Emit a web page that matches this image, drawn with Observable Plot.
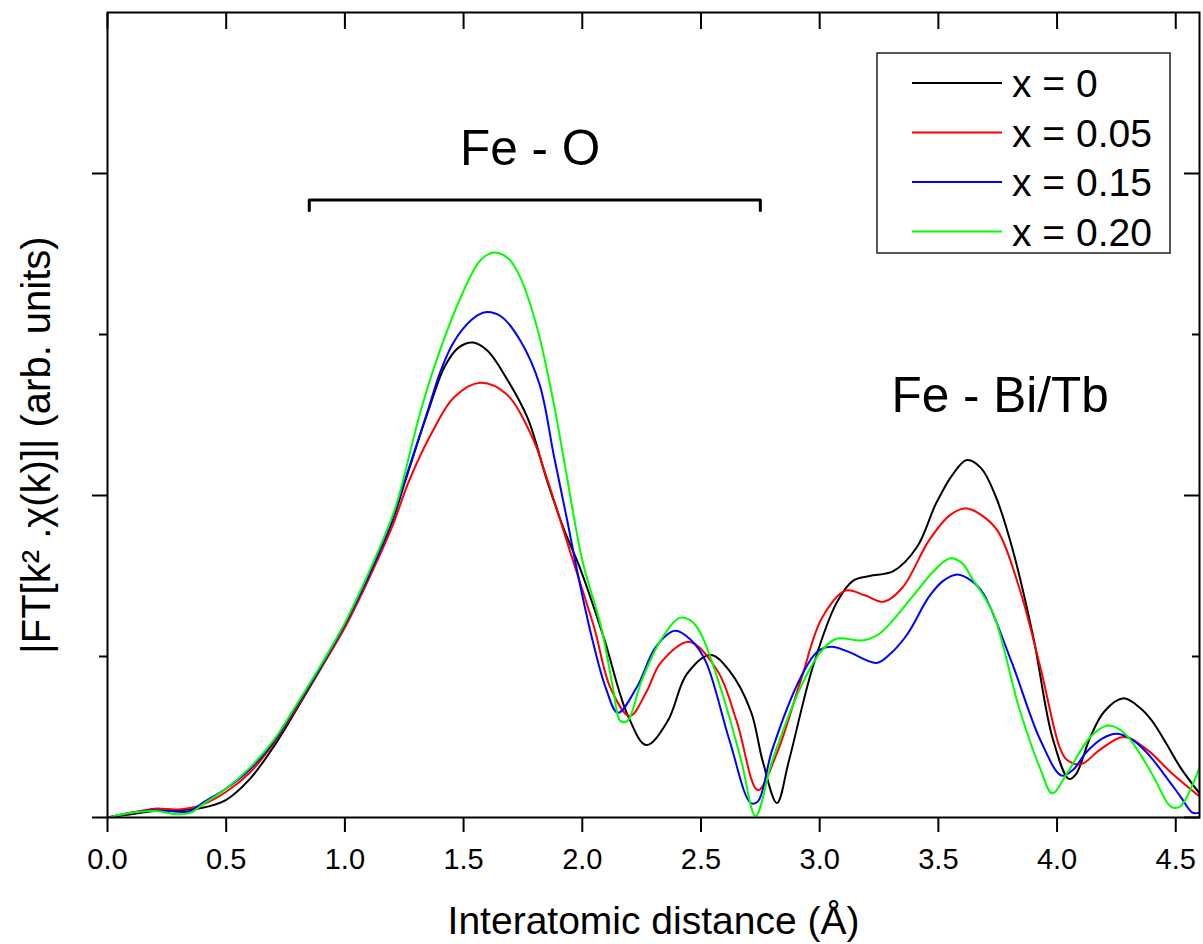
<!DOCTYPE html>
<html>
<head>
<meta charset="utf-8">
<script src="https://cdn.jsdelivr.net/npm/d3@7"></script>
<script src="https://cdn.jsdelivr.net/npm/@observablehq/plot@0.6"></script>
<style>
  html, body { margin: 0; padding: 0; background: #fff; }
  #chart { width: 1203px; height: 944px; }
</style>
</head>
<body>
<div id="chart"></div>
<script>
// Fourier-transformed EXAFS magnitude at the Fe K-edge, Bi(1-x)Tb(x)FeO3 series.
// Interatomic distance R in Å; magnitude in arbitrary units.

const seriesNames = ["x = 0", "x = 0.05", "x = 0.15", "x = 0.20"];
const seriesColors = ["#000000", "#ff0000", "#0000ff", "#00ff00"];

const rX0 = [0, 0.1, 0.2, 0.3, 0.4, 0.5, 0.6, 0.7, 0.8, 0.9, 1.0, 1.1, 1.2, 1.25, 1.3, 1.35, 1.42, 1.48, 1.54, 1.6, 1.68, 1.77, 1.85, 1.92, 1.99, 2.09, 2.19, 2.27, 2.36, 2.44, 2.54, 2.62, 2.71, 2.76, 2.82, 2.87, 2.97, 3.07, 3.14, 3.21, 3.31, 3.41, 3.49, 3.56, 3.62, 3.68, 3.74, 3.81, 3.9, 3.98, 4.05, 4.08, 4.14, 4.2, 4.28, 4.35, 4.4, 4.46, 4.52, 4.6];
const ftX0 = [0, 0.02, 0.04, 0.045, 0.06, 0.11, 0.24, 0.44, 0.68, 0.93, 1.19, 1.49, 1.84, 2.07, 2.30, 2.52, 2.80, 2.92, 2.95, 2.90, 2.73, 2.48, 2.10, 1.80, 1.55, 1.12, 0.64, 0.45, 0.60, 0.89, 1.01, 0.91, 0.66, 0.35, 0.09, 0.35, 0.93, 1.33, 1.47, 1.50, 1.53, 1.68, 1.95, 2.13, 2.22, 2.17, 2.00, 1.68, 1.12, 0.50, 0.24, 0.27, 0.50, 0.66, 0.74, 0.68, 0.60, 0.46, 0.31, 0.15];

const rX005 = [0, 0.1, 0.2, 0.3, 0.4, 0.5, 0.6, 0.7, 0.8, 0.9, 1.0, 1.1, 1.2, 1.27, 1.37, 1.46, 1.57, 1.68, 1.79, 1.85, 1.96, 2.05, 2.12, 2.2, 2.27, 2.33, 2.45, 2.57, 2.65, 2.74, 2.82, 2.92, 3.01, 3.11, 3.19, 3.27, 3.35, 3.46, 3.55, 3.62, 3.68, 3.75, 3.84, 3.93, 4.01, 4.04, 4.10, 4.18, 4.28, 4.38, 4.48, 4.6];
const ftX005 = [0, 0.03, 0.055, 0.05, 0.08, 0.16, 0.28, 0.46, 0.69, 0.93, 1.18, 1.48, 1.81, 2.09, 2.40, 2.61, 2.70, 2.63, 2.36, 2.11, 1.60, 1.18, 0.80, 0.63, 0.78, 0.96, 1.09, 0.91, 0.60, 0.17, 0.40, 0.85, 1.24, 1.41, 1.38, 1.34, 1.43, 1.72, 1.88, 1.92, 1.88, 1.78, 1.43, 0.93, 0.44, 0.36, 0.33, 0.42, 0.50, 0.42, 0.28, 0.13];

const rX015 = [0, 0.1, 0.2, 0.3, 0.35, 0.4, 0.5, 0.6, 0.7, 0.8, 0.9, 1.0, 1.1, 1.2, 1.25, 1.35, 1.40, 1.45, 1.5, 1.56, 1.6, 1.66, 1.74, 1.82, 1.88, 1.94, 1.98, 2.04, 2.10, 2.15, 2.23, 2.31, 2.39, 2.46, 2.52, 2.62, 2.71, 2.74, 2.80, 2.92, 2.99, 3.05, 3.12, 3.24, 3.30, 3.37, 3.46, 3.52, 3.58, 3.64, 3.69, 3.81, 3.93, 4.02, 4.07, 4.12, 4.19, 4.25, 4.31, 4.38, 4.45, 4.52, 4.57, 4.6];
const ftX015 = [0, 0.03, 0.045, 0.035, 0.04, 0.09, 0.18, 0.30, 0.47, 0.70, 0.94, 1.20, 1.50, 1.85, 2.08, 2.53, 2.76, 2.93, 3.04, 3.12, 3.14, 3.11, 2.96, 2.69, 2.25, 1.82, 1.52, 1.12, 0.80, 0.65, 0.81, 1.06, 1.16, 1.10, 0.97, 0.48, 0.09, 0.10, 0.42, 0.87, 1.03, 1.06, 1.03, 0.96, 1.02, 1.14, 1.37, 1.47, 1.51, 1.47, 1.39, 0.96, 0.48, 0.26, 0.30, 0.40, 0.49, 0.52, 0.49, 0.40, 0.27, 0.13, 0.03, 0.03];

const rX020 = [0, 0.1, 0.2, 0.3, 0.35, 0.4, 0.5, 0.6, 0.7, 0.8, 0.9, 1.0, 1.1, 1.2, 1.23, 1.32, 1.40, 1.50, 1.57, 1.63, 1.69, 1.74, 1.81, 1.88, 1.93, 2.0, 2.08, 2.13, 2.16, 2.19, 2.25, 2.33, 2.41, 2.46, 2.50, 2.59, 2.67, 2.73, 2.80, 2.92, 3.00, 3.07, 3.18, 3.25, 3.39, 3.48, 3.55, 3.60, 3.64, 3.73, 3.84, 3.93, 3.98, 4.04, 4.14, 4.21, 4.26, 4.31, 4.40, 4.47, 4.49, 4.52, 4.6];
const ftX020 = [0, 0.03, 0.04, 0.02, 0.03, 0.08, 0.18, 0.31, 0.48, 0.71, 0.95, 1.21, 1.52, 1.87, 2.01, 2.53, 2.90, 3.27, 3.46, 3.51, 3.47, 3.35, 3.04, 2.57, 2.16, 1.60, 1.18, 0.80, 0.60, 0.60, 0.85, 1.10, 1.24, 1.22, 1.14, 0.77, 0.35, 0.01, 0.35, 0.81, 1.02, 1.11, 1.10, 1.14, 1.37, 1.53, 1.61, 1.58, 1.49, 1.27, 0.68, 0.30, 0.15, 0.27, 0.50, 0.57, 0.55, 0.48, 0.27, 0.08, 0.06, 0.07, 0.31];

const xTicks = [0, 0.5, 1.0, 1.5, 2.0, 2.5, 3.0, 3.5, 4.0, 4.5];
const yMajorTicks = [0, 2, 4];
const yMinorTicks = [1, 3];

// Shell assignments drawn on the chart
const shellLabels = [
  {label: "Fe - O", r: 1.78, level: 4.05},
  {label: "Fe - Bi/Tb", r: 3.76, level: 2.52}
];
const feOBracket = [
  {r: 0.85, level: 3.77},
  {r: 0.85, level: 3.835},
  {r: 2.75, level: 3.835},
  {r: 2.75, level: 3.77}
];

const yTitle = "|FT[k\u00b2 .\u03c7(k)]| (arb. units)";
const xTitle = "Interatomic distance (\u00c5)";

const rows = [];
[[rX0, ftX0], [rX005, ftX005], [rX015, ftX015], [rX020, ftX020]].forEach(([rs, vs], k) => {
  rs.forEach((r, i) => rows.push({series: seriesNames[k], r, ft: vs[i]}));
});

const font = "'Liberation Sans', Arial, Helvetica, sans-serif";
const noLabel = () => "";

const chart = Plot.plot({
  width: 1203,
  height: 944,
  marginLeft: 107,
  marginRight: 4,
  marginTop: 12,
  marginBottom: 127,
  style: {fontFamily: font, background: "#fff", color: "#000", overflow: "visible"},
  x: {domain: [0, 4.6]},
  y: {domain: [0, 5]},
  color: {domain: seriesNames, range: seriesColors},
  marks: [
    Plot.axisX({ticks: xTicks, tickFormat: d3.format(".1f"), tickSize: 15, tickPadding: 16, fontSize: 29, strokeWidth: 2, label: null}),
    Plot.axisX({anchor: "top", ticks: xTicks, tickSize: -16, tickFormat: noLabel, strokeWidth: 2, label: null}),
    Plot.axisY({ticks: yMajorTicks, tickSize: 15, tickFormat: noLabel, strokeWidth: 2, label: null}),
    Plot.axisY({ticks: yMinorTicks, tickSize: 8, tickFormat: noLabel, strokeWidth: 2, label: null}),
    Plot.axisY({anchor: "right", ticks: yMajorTicks, tickSize: -16, tickFormat: noLabel, strokeWidth: 2, label: null}),
    Plot.axisY({anchor: "right", ticks: yMinorTicks, tickSize: -8, tickFormat: noLabel, strokeWidth: 2, label: null}),
    Plot.line(rows, {x: "r", y: "ft", z: "series", stroke: "series", strokeWidth: 2, curve: "catmull-rom", clip: true}),
    Plot.frame({strokeWidth: 2}),
    Plot.line(feOBracket, {x: "r", y: "level", strokeWidth: 3, strokeLinejoin: "round"}),
    Plot.text(shellLabels, {x: "r", y: "level", text: "label", fontSize: 49.5, lineAnchor: "bottom"}),
    Plot.text([xTitle], {text: d => d, frameAnchor: "bottom", dy: 116, lineAnchor: "bottom", fontSize: 39}),
    Plot.text([yTitle], {text: d => d, frameAnchor: "left", textAnchor: "middle", rotate: -90, dx: -58, dy: 30, lineAnchor: "bottom", fontSize: 40})
  ]
});

// Legend box in the upper-right corner of the frame
const svg = d3.select(chart);
const legend = svg.append("g").attr("font-family", font).attr("text-anchor", "start");
legend.append("rect")
  .attr("x", 877).attr("y", 53).attr("width", 293).attr("height", 200)
  .attr("fill", "#fff").attr("stroke", "#222").attr("stroke-width", 1.5);
seriesNames.forEach((name, i) => {
  const y = 83 + i * 49.5;
  legend.append("line")
    .attr("x1", 912).attr("x2", 1002).attr("y1", y).attr("y2", y)
    .attr("stroke", seriesColors[i]).attr("stroke-width", 2);
  legend.append("text")
    .attr("x", 1012).attr("y", y + 14)
    .attr("font-size", 39).attr("fill", "#000")
    .text(name);
});

document.getElementById("chart").appendChild(chart);
</script>
</body>
</html>
